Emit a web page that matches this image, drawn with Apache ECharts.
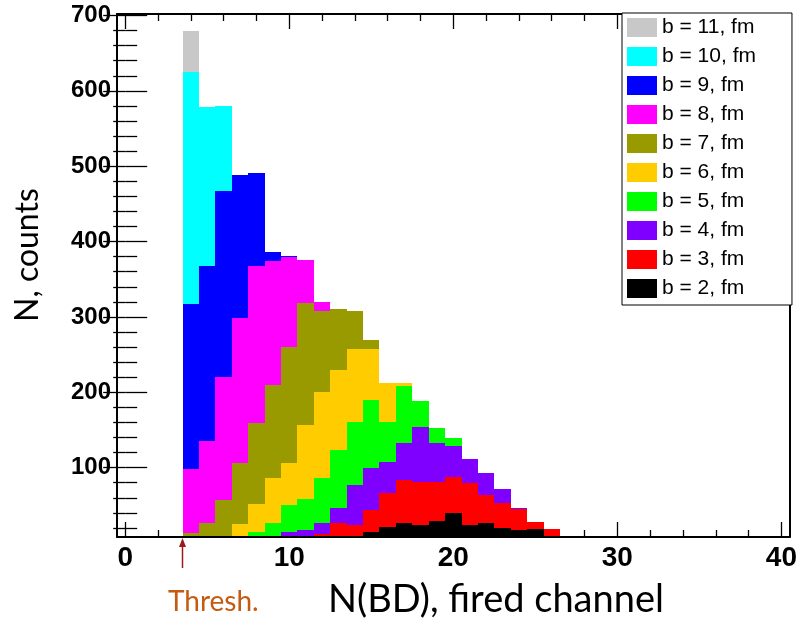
<!DOCTYPE html>
<html>
<head>
<meta charset="utf-8">
<script src="https://cdn.jsdelivr.net/npm/echarts@6/dist/echarts.min.js"></script>
<style>
  html, body { margin: 0; padding: 0; background: #ffffff; }
  #chart { width: 800px; height: 633px; }
</style>
</head>
<body>
<div id="chart"></div>
<script>
// Fired-channel bins (bin centres, width 1)
const channels = [4, 5, 6, 7, 8, 9, 10, 11, 12, 13, 14, 15, 16, 17, 18, 19, 20, 21, 22, 23, 24, 25, 26];

// Counts per impact parameter b (fm), one value per channel bin
const b2  = [0, 0, 0, 0, 0, 0, 0, 0, 0, 0, 0, 15, 21, 27, 24, 29, 40, 24, 27, 20, 17, 18, 0];
const b3  = [0, 0, 0, 0, 0, 0, 0, 0, 12, 26, 24, 29, 45, 56, 57, 52, 47, 55, 37, 33, 28, 10, 18];
const b4  = [0, 0, 0, 0, 0, 0, 15, 17, 15, 21, 53, 56, 42, 50, 73, 52, 42, 32, 29, 19, 2, 0, 0];
const b5  = [0, 0, 0, 0, 15, 27, 35, 42, 59, 77, 83, 90, 52, 75, 35, 20, 10, 0, 0, 0, 0, 0, 0];
const b6  = [0, 0, 0, 25, 37, 59, 56, 98, 114, 106, 98, 68, 52, 4, 0, 0, 0, 0, 0, 0, 0, 0, 0];
const b7  = [13, 27, 57, 81, 107, 124, 154, 161, 108, 80, 50, 11, 0, 0, 0, 0, 0, 0, 0, 0, 0, 0, 0];
const b8  = [85, 109, 163, 193, 208, 164, 119, 58, 12, 0, 0, 0, 0, 0, 0, 0, 0, 0, 0, 0, 0, 0, 0];
const b9  = [219, 232, 247, 190, 124, 12, 2, 0, 0, 0, 0, 0, 0, 0, 0, 0, 0, 0, 0, 0, 0, 0, 0];
const b10 = [308, 211, 113, 0, 0, 0, 0, 0, 0, 0, 0, 0, 0, 0, 0, 0, 0, 0, 0, 0, 0, 0, 0];
const b11 = [55, 0, 0, 0, 0, 0, 0, 0, 0, 0, 0, 0, 0, 0, 0, 0, 0, 0, 0, 0, 0, 0, 0];

// Axis ticks
const xMajorTicks = [0, 10, 20, 30, 40];
const xMinorTicks = [2, 4, 6, 8, 12, 14, 16, 18, 22, 24, 26, 28, 32, 34, 36, 38];
const yMajorTicks = [100, 200, 300, 400, 500, 600, 700];
const yMinorTicks = [20, 40, 60, 80, 120, 140, 160, 180, 220, 240, 260, 280, 320, 340, 360, 380,
                     420, 440, 460, 480, 520, 540, 560, 580, 620, 640, 660, 680];
const threshold = 3.5;

// Stack order: bottom (b = 2) to top (b = 11)
const layers = [
  { name: 'b = 2, fm',  color: '#000000', counts: b2 },
  { name: 'b = 3, fm',  color: '#ff0000', counts: b3 },
  { name: 'b = 4, fm',  color: '#8000ff', counts: b4 },
  { name: 'b = 5, fm',  color: '#00ff00', counts: b5 },
  { name: 'b = 6, fm',  color: '#ffcc00', counts: b6 },
  { name: 'b = 7, fm',  color: '#999900', counts: b7 },
  { name: 'b = 8, fm',  color: '#ff00ff', counts: b8 },
  { name: 'b = 9, fm',  color: '#0000ff', counts: b9 },
  { name: 'b = 10, fm', color: '#00ffff', counts: b10 },
  { name: 'b = 11, fm', color: '#c8c8c8', counts: b11 }
];

const X_MIN = -0.5, X_MAX = 40.5, Y_MIN = 8, Y_MAX = 702;

// One filled rectangle per bin, snapped to whole pixels so neighbouring bins meet without seams
function renderBin(params, api) {
  const x = api.value(0), lo = api.value(1), hi = api.value(2);
  const p0 = api.coord([x - 0.5, hi]);
  const p1 = api.coord([x + 0.5, lo]);
  const cs = params.coordSys;
  const rect = echarts.graphic.clipRectByRect(
    { x: p0[0], y: p0[1], width: p1[0] - p0[0], height: p1[1] - p0[1] },
    { x: cs.x, y: cs.y, width: cs.width, height: cs.height }
  );
  if (!rect) return null;
  const x0 = Math.round(rect.x), x1 = Math.round(rect.x + rect.width);
  const y0 = Math.round(rect.y), y1 = Math.round(rect.y + rect.height);
  return {
    type: 'rect',
    shape: { x: x0, y: y0, width: x1 - x0, height: y1 - y0 },
    style: { fill: api.visual('color') }
  };
}

const base = channels.map(() => 0);
const series = layers.map(layer => {
  const data = [];
  channels.forEach((ch, i) => {
    const v = layer.counts[i];
    if (v > 0) data.push([ch, base[i], base[i] + v]);
    base[i] += v;
  });
  return {
    type: 'custom',
    name: layer.name,
    renderItem: renderBin,
    itemStyle: { color: layer.color },
    encode: { x: 0, y: [1, 2] },
    data: data,
    z: 2
  };
});

const tickFont = 'Liberation Sans, Arial, Helvetica, sans-serif';
const noShow = { show: false };

function xAxis(position, extra) {
  return Object.assign({
    type: 'value', gridIndex: 0, position: position, min: X_MIN, max: X_MAX,
    splitLine: noShow, axisLine: noShow, axisTick: noShow, axisLabel: noShow
  }, extra);
}
function yAxis(position, extra) {
  return Object.assign({
    type: 'value', gridIndex: 0, position: position, min: Y_MIN, max: Y_MAX,
    splitLine: noShow, axisLine: noShow, axisTick: noShow, axisLabel: noShow
  }, extra);
}
const frameLine = { show: true, onZero: false, lineStyle: { color: '#000', width: 2 } };
const tick = (len, values) => ({ show: true, inside: true, length: len, customValues: values,
  lineStyle: { color: '#000', width: 1.3 } });

const option = {
  animation: false,
  backgroundColor: '#ffffff',
  grid: { left: 117, right: 8, top: 14, bottom: 96, containLabel: false },
  legend: {
    data: layers.slice().reverse().map(l => l.name),
    orient: 'vertical',
    left: 622, top: 13,
    padding: [4, 36, 6, 5],
    itemWidth: 30, itemHeight: 19, itemGap: 8,
    icon: 'rect',
    backgroundColor: '#ffffff',
    borderColor: '#000000', borderWidth: 1, borderRadius: 0,
    selectedMode: false,
    textStyle: { fontFamily: tickFont, fontSize: 21, color: '#000', lineHeight: 19 },
    z: 10
  },
  xAxis: [
    xAxis('bottom', {
      z: 3, axisLine: frameLine,
      axisLabel: { show: true, customValues: xMajorTicks, margin: 7,
        fontFamily: tickFont, fontWeight: 'bold', fontSize: 28, color: '#000' }
    }),
    xAxis('bottom', { z: 0, axisTick: tick(15, xMajorTicks) }),
    xAxis('bottom', { z: 0, axisTick: tick(7, xMinorTicks) }),
    xAxis('top', { z: 3, axisLine: frameLine }),
    xAxis('top', { z: 0, axisTick: tick(15, xMajorTicks) }),
    xAxis('top', { z: 0, axisTick: tick(7, xMinorTicks) })
  ],
  yAxis: [
    yAxis('left', {
      z: 3, axisLine: frameLine,
      axisLabel: { show: true, customValues: yMajorTicks, margin: 6,
        fontFamily: tickFont, fontWeight: 'bold', fontSize: 24, color: '#000' }
    }),
    yAxis('left', { z: 0, axisTick: tick(22, yMajorTicks) }),
    yAxis('left', { z: 0, axisTick: tick(12, yMinorTicks) }),
    yAxis('right', { z: 3, axisLine: frameLine }),
    yAxis('right', { z: 0, axisTick: tick(22, yMajorTicks) }),
    yAxis('right', { z: 0, axisTick: tick(12, yMinorTicks) })
  ],
  series: series
};

const chart = echarts.init(document.getElementById('chart'), null, { renderer: 'canvas' });
chart.setOption(option);

// Threshold marker and axis titles
const tx = Math.round(chart.convertToPixel({ xAxisIndex: 0 }, threshold)) - 0.5;
const titleFont = 'Lato, "Open Sans", sans-serif';
chart.setOption({
  graphic: [
    { type: 'line', shape: { x1: tx, y1: 544, x2: tx, y2: 568 },
      style: { stroke: '#9b1b1b', lineWidth: 1.5 }, z: 20 },
    { type: 'polygon', shape: { points: [[tx, 538], [tx - 3.5, 547], [tx + 3.5, 547]] },
      style: { fill: '#9b1b1b' }, z: 20 },
    { type: 'text', left: 168, top: 588,
      style: { text: 'Thresh.', fill: '#c55a11', font: '28px ' + titleFont }, z: 20 },
    { type: 'text', left: 328, top: 581,
      style: { text: 'N(BD), fired channel', fill: '#000', font: '38px ' + titleFont }, z: 20 },
    { type: 'text', x: 12, y: 322, rotation: Math.PI / 2,
      style: { text: 'N, counts', fill: '#000', font: '32px ' + titleFont }, z: 20 }
  ]
});
</script>
</body>
</html>
